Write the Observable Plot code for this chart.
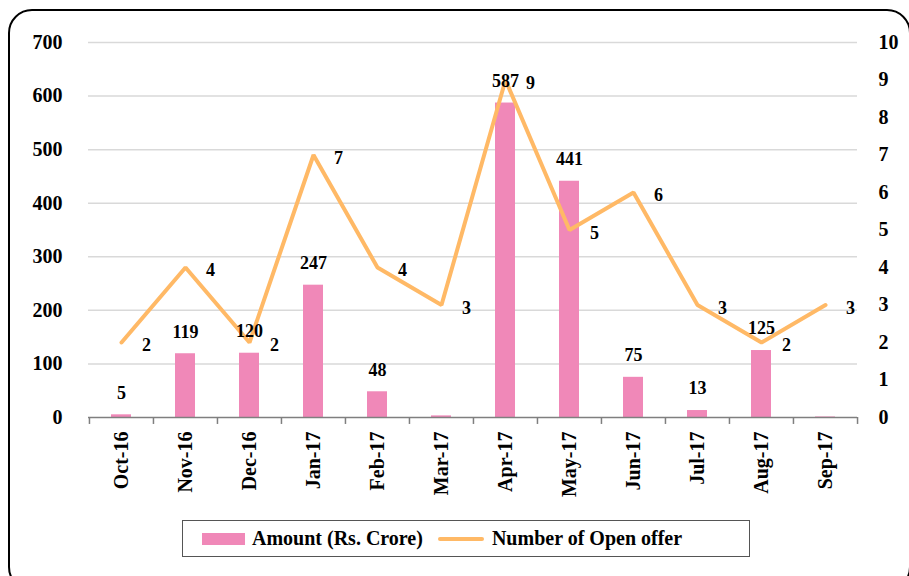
<!DOCTYPE html>
<html><head><meta charset="utf-8">
<script src="https://cdn.jsdelivr.net/npm/d3@7"></script>
<script src="https://cdn.jsdelivr.net/npm/@observablehq/plot@0.6"></script>
<style>
body{margin:0;background:#fff;font-family:"Liberation Serif",serif;}
#wrap{position:relative;width:909px;height:576px;overflow:hidden;background:#fff;}
#chart{position:absolute;left:0;top:0;}
#frame{position:absolute;left:8px;top:9px;width:903px;height:582px;border:2px solid #000;border-radius:24px;box-sizing:border-box;}
#legend{position:absolute;left:182px;top:520px;width:568px;height:37px;border:1.5px solid #555;box-sizing:border-box;display:flex;align-items:center;font-weight:bold;font-size:20px;color:#000;white-space:nowrap;}
.sw-bar{display:inline-block;width:43px;height:12px;background:#F088B8;margin-left:19px;margin-right:7px;}
.sw-line{display:inline-block;width:46px;height:4px;border-radius:2px;background:#FFB966;margin-left:15px;margin-right:8px;}
</style></head>
<body>
<div id="wrap">
  <div id="chart"></div>
  <div id="frame"></div>
  <div id="legend"><span class="sw-bar"></span><span>Amount (Rs. Crore)</span><span class="sw-line"></span><span>Number of Open offer</span></div>
</div>
<script>
const months = ["Oct-16","Nov-16","Dec-16","Jan-17","Feb-17","Mar-17","Apr-17","May-17","Jun-17","Jul-17","Aug-17","Sep-17"];
const amounts = [5,119,120,247,48,3,587,441,75,13,125,1];
const amountLabels = ["5","119","120","247","48","","587","441","75","13","125",""];
const offers = [2,4,2,7,4,3,9,5,6,3,2,3];
const leftTicks = [0,100,200,300,400,500,600,700];
const rightTicks = [0,1,2,3,4,5,6,7,8,9,10];
const SCALE = 70; // 700 on the left axis = 10 on the right axis

const data = months.map((m,i)=>({month:m, amount:amounts[i], label:amountLabels[i], offers:offers[i]}));

const W = 909, ML = 88, MR = 52;
const half = (W - ML - MR) / months.length / 2;

const chart = Plot.plot({
  width: W, height: 576,
  marginLeft: ML, marginRight: MR, marginTop: 42, marginBottom: 159,
  x: {domain: months, paddingInner: 0.69, paddingOuter: 0.345, label: null},
  y: {domain: [0, 700], label: null},
  style: {fontFamily: "Liberation Serif", fontWeight: "bold", fontSize: "20px", color: "#000", background: "transparent", overflow: "visible"},
  marks: [
    Plot.gridY(leftTicks.filter(d => d > 0), {stroke: "#d9d9d9", strokeOpacity: 1, strokeWidth: 1.5}),
    Plot.axisY(leftTicks, {anchor: "left", tickSize: 0, tickPadding: 26, label: null}),
    Plot.axisY(rightTicks.map(d => d * SCALE), {anchor: "right", tickSize: 0, tickPadding: 21, tickFormat: d => d / SCALE, label: null}),
    Plot.axisX({tickRotate: -90, tickSize: 0, tickPadding: 14, label: null}),
    Plot.barY(data, {x: "month", y: "amount", fill: "#F088B8"}),
    Plot.ruleY([0], {stroke: "#7f7f7f", strokeWidth: 1.5}),
    Plot.ruleX(months, {x: d => d, y1: 0, y2: -13, dx: -half, stroke: "#7f7f7f", strokeWidth: 1.5}),
    Plot.ruleX(months.slice(-1), {x: d => d, y1: 0, y2: -13, dx: half, stroke: "#7f7f7f", strokeWidth: 1.5}),
    Plot.line(data, {x: "month", y: d => d.offers * SCALE, stroke: "#FFB966", strokeWidth: 4, strokeLinejoin: "miter"}),
    Plot.text(data, {x: "month", y: "amount", text: "label", dy: -22, fontSize: 18, fontWeight: "bold", fill: "#000"}),
    Plot.text(data, {x: "month", y: d => d.offers * SCALE, text: "offers", dx: 25, dy: 3, fontSize: 18, fontWeight: "bold", fill: "#000"})
  ]
});
document.getElementById("chart").appendChild(chart);
</script>
</body></html>
